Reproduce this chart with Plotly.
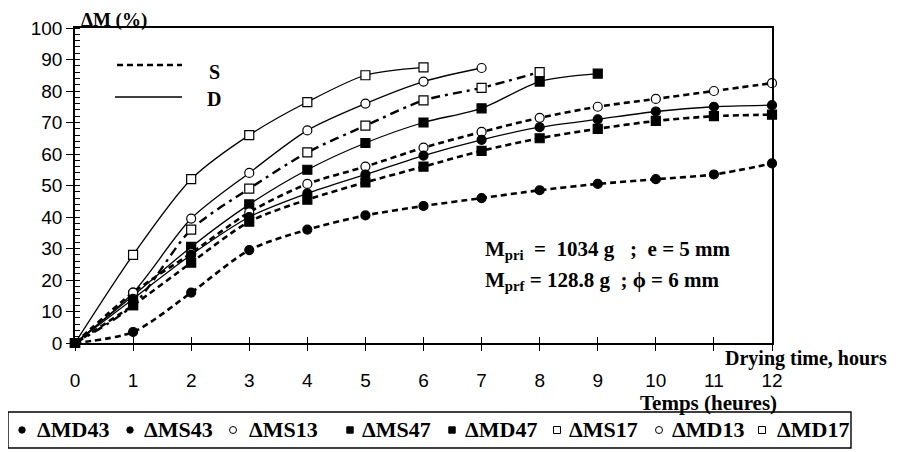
import plotly.graph_objects as go

hours = list(range(13))

md17 = [0, 28, 52, 66, 76.5, 85, 87.5]
md13 = [0, 16, 39.5, 54, 67.5, 76, 83, 87.3]
ms17 = [0, 12, 36, 49, 60.5, 69, 77, 81, 86]
md47 = [0, 15, 30.5, 44, 55, 63.5, 70, 74.5, 83, 85.5]
ms13 = [0, 16, 28.5, 41.5, 50.5, 56, 62, 67, 71.5, 75, 77.5, 80, 82.5]
md43 = [0, 14, 28, 40, 47.5, 53.5, 59.5, 64.5, 68.5, 71, 73.5, 75, 75.5]
ms47 = [0, 12, 25.5, 38.5, 45.5, 51, 56, 61, 65, 68, 70.5, 72, 72.5]
ms43 = [0, 3.5, 16, 29.5, 36, 40.5, 43.5, 46, 48.5, 50.5, 52, 53.5, 57]

legend_names = ["ΔMD43", "ΔMS43", "ΔMS13", "ΔMS47", "ΔMD47", "ΔMS17", "ΔMD13", "ΔMD17"]
legend_symbols = ["circle", "circle", "circle-open", "square", "square", "square-open", "circle-open", "square-open"]

y_ticks = list(range(0, 101, 10))
x_ticks = list(range(0, 13))

SERIF = "Times New Roman, Liberation Serif, serif"
SANS = "Arial, Liberation Sans, sans-serif"

DOT = "6px,4px"
DASHDOT = "9px,5px,3px,5px"

# page body has an 8px margin: convert reference-window pixels to figure pixels
OFF = 8
FIG_W, FIG_H = 901, 452
L, R, T, B = 75 - OFF, 772 - OFF, 28 - OFF, 343 - OFF
W, H = R - L, B - T


def px(x):
    return (x - OFF - L) / W


def py(y):
    return (B - (y - OFF)) / H


series = [
    (md17, "square-open", "solid", 1.3),
    (md13, "circle-open", "solid", 1.3),
    (ms17, "square-open", DASHDOT, 2.4),
    (md47, "square", "solid", 1.3),
    (ms13, "circle-open", DOT, 2.6),
    (md43, "circle", "solid", 1.3),
    (ms47, "square", DOT, 2.6),
    (ms43, "circle", DOT, 2.6),
]

fig = go.Figure()
for vals, sym, dash, w in series:
    is_open = sym.endswith("-open")
    fig.add_trace(go.Scatter(
        x=hours[:len(vals)], y=vals, mode="lines+markers",
        line=dict(color="black", width=w, dash=dash, shape="spline", smoothing=0.8),
        marker=dict(symbol=sym.replace("-open", ""), size=9,
                    color="white" if is_open else "black",
                    line=dict(color="black", width=1.2)),
        showlegend=False, cliponaxis=False,
    ))

# overlay axes for the inner half of crossing ticks
fig.add_trace(go.Scatter(x=[None], y=[None], xaxis="x2", yaxis="y2", showlegend=False))

shapes = [
    dict(type="line", xref="paper", yref="paper", x0=px(117), x1=px(182), y0=py(65), y1=py(65),
         line=dict(color="black", width=2.6, dash=DOT)),
    dict(type="line", xref="paper", yref="paper", x0=px(115), x1=px(182), y0=py(97), y1=py(97),
         line=dict(color="black", width=1.3)),
    # bottom legend box
    dict(type="rect", xref="paper", yref="paper", x0=px(8), x1=px(851), y0=py(412), y1=py(448),
         line=dict(color="black", width=1.4), fillcolor="rgba(0,0,0,0)"),
]

annotations = [
    dict(text="<b>ΔM (%)</b>", xref="paper", yref="paper", x=px(79), y=py(20), xanchor="left",
         yanchor="middle", showarrow=False, font=dict(family=SERIF, size=19, color="black")),
    dict(text="<b>S</b>", xref="paper", yref="paper", x=px(214), y=py(72), xanchor="center",
         yanchor="middle", showarrow=False, font=dict(family=SERIF, size=20, color="black")),
    dict(text="<b>D</b>", xref="paper", yref="paper", x=px(214), y=py(99), xanchor="center",
         yanchor="middle", showarrow=False, font=dict(family=SERIF, size=20, color="black")),
    dict(text="<b>M<sub>pri</sub>\u00a0\u00a0=\u00a0\u00a01034\u00a0g\u00a0\u00a0\u00a0;\u00a0\u00a0e\u00a0=\u00a05\u00a0mm</b>",
         xref="paper", yref="paper", x=px(483), y=py(250), xanchor="left", yanchor="middle",
         showarrow=False, font=dict(family=SERIF, size=21, color="black")),
    dict(text="<b>M<sub>prf</sub>\u00a0=\u00a0128.8\u00a0g\u00a0\u00a0;\u00a0ϕ\u00a0=\u00a06\u00a0mm</b>",
         xref="paper", yref="paper", x=px(483), y=py(281), xanchor="left", yanchor="middle",
         showarrow=False, font=dict(family=SERIF, size=21, color="black")),
    dict(text="<b>Drying time, hours</b>", xref="paper", yref="paper", x=px(723), y=py(358),
         xanchor="left", yanchor="middle", showarrow=False,
         font=dict(family=SERIF, size=20, color="black")),
    dict(text="<b>Temps (heures)</b>", xref="paper", yref="paper", x=px(708), y=py(403),
         xanchor="center", yanchor="middle", showarrow=False,
         font=dict(family=SERIF, size=21, color="black")),
]

# bottom legend entries (symbol + label), laid out like the reference box
marker_px = [22, 130, 233, 350, 452, 557, 659, 762]
text_px = [35, 142, 247, 360, 463, 567, 670, 775]
ly = 430
for name, sym, mx, tx in zip(legend_names, legend_symbols, marker_px, text_px):
    is_open = sym.endswith("-open")
    r = 3.5 if is_open else 3.2
    shapes.append(dict(
        type="circle" if sym.startswith("circle") else "rect",
        xref="paper", yref="paper",
        x0=px(mx - r), x1=px(mx + r), y0=py(ly + r), y1=py(ly - r),
        fillcolor="white" if is_open else "black",
        line=dict(color="black", width=1)))
    annotations.append(dict(
        text="<b>" + name + "</b>", xref="paper", yref="paper", x=px(tx), y=py(ly),
        xanchor="left", yanchor="middle", showarrow=False,
        font=dict(family=SERIF, size=22, color="black")))

fig.update_layout(
    width=FIG_W, height=FIG_H,
    margin=dict(l=L, r=FIG_W - R, t=T, b=FIG_H - B),
    plot_bgcolor="white", paper_bgcolor="white",
    showlegend=False,
    xaxis=dict(range=[0, 12], tickvals=x_ticks, ticks="outside", ticklen=6, tickcolor="black",
               showline=True, linecolor="black", linewidth=1.5, mirror=True, showgrid=False,
               zeroline=False, tickfont=dict(family=SANS, size=19, color="black"),
               ticklabelstandoff=13, automargin=False),
    yaxis=dict(range=[0, 100], tickvals=y_ticks, ticks="outside", ticklen=7, tickcolor="black",
               showline=True, linecolor="black", linewidth=1.5, mirror=True, showgrid=False,
               zeroline=False, tickfont=dict(family=SANS, size=19, color="black"),
               automargin=False,
               minor=dict(dtick=2, ticks="inside", ticklen=5, tickcolor="black", showgrid=False)),
    xaxis2=dict(range=[0, 12], overlaying="x", anchor="y", tickvals=x_ticks, ticks="inside",
                ticklen=6, tickcolor="black", showticklabels=False, showgrid=False,
                zeroline=False, showline=False),
    yaxis2=dict(range=[0, 100], overlaying="y", anchor="x", tickvals=y_ticks, ticks="inside",
                ticklen=5, tickcolor="black", showticklabels=False, showgrid=False,
                zeroline=False, showline=False),
    shapes=shapes,
    annotations=annotations,
)

fig.write_html("out.html")
